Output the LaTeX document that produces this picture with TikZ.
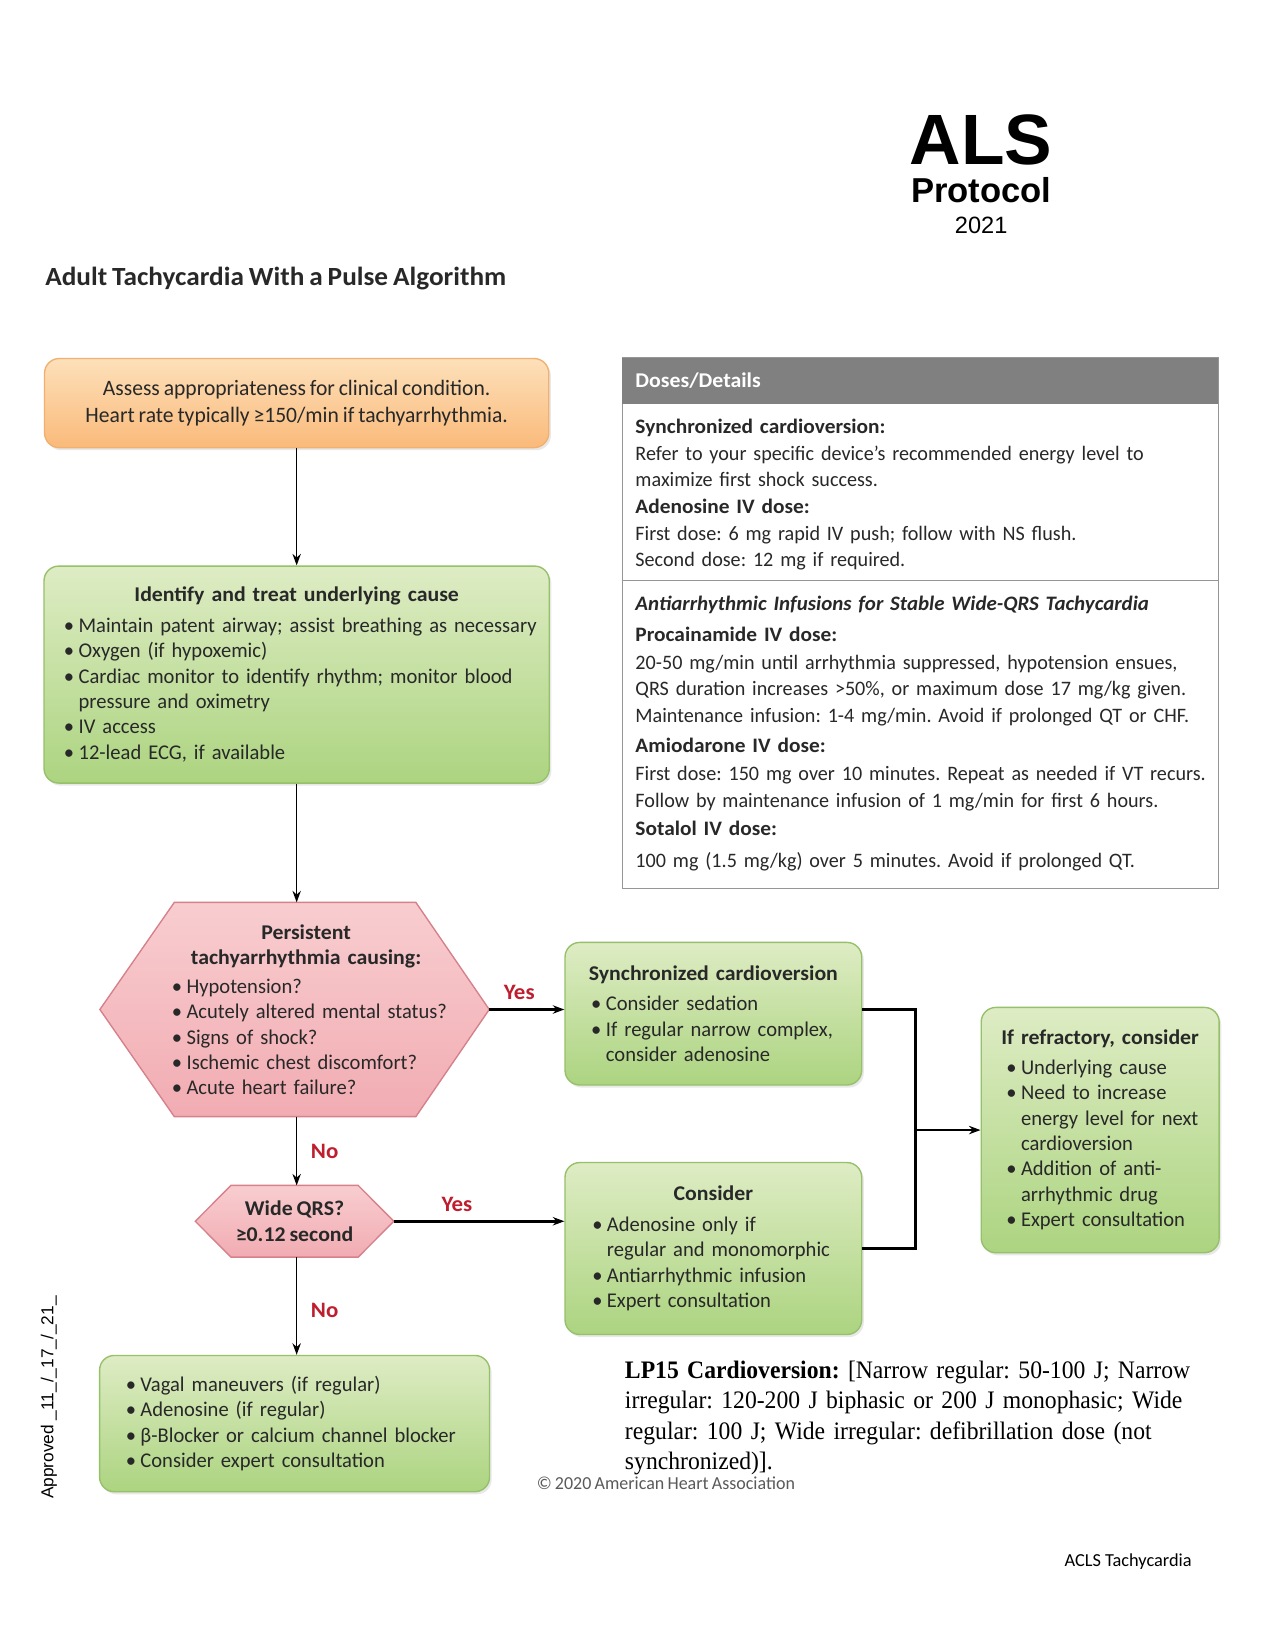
\documentclass[tikz,border=0pt]{standalone}
\usepackage{fontspec}
\setmainfont{Carlito}
\newfontfamily\cond{Carlito}[FakeStretch=0.98,WordSpace=0.8,BoldFeatures={FakeStretch=1.04},BoldItalicFeatures={FakeStretch=1.02}]
\newfontfamily\arialfont{Liberation Sans}
\newfontfamily\seriffont{Liberation Serif}[FakeStretch=0.94]
\usetikzlibrary{shapes,arrows.meta,positioning,calc,backgrounds,shadows}
\definecolor{textdark}{RGB}{40,40,40}
\definecolor{greentop}{RGB}{222,236,196}
\definecolor{greenbot}{RGB}{172,212,128}
\definecolor{greenline}{RGB}{150,192,105}
\definecolor{orangetop}{RGB}{253,224,186}
\definecolor{orangebot}{RGB}{250,186,122}
\definecolor{orangeline}{RGB}{242,176,112}
\definecolor{pinktop}{RGB}{248,205,208}
\definecolor{pinkbot}{RGB}{241,172,178}
\definecolor{pinkline}{RGB}{214,128,138}
\definecolor{answerred}{RGB}{190,30,45}
\definecolor{headgray}{RGB}{128,128,128}
\definecolor{tableline}{RGB}{150,150,150}
\definecolor{ahagray}{RGB}{90,90,90}
\setlength{\parindent}{0pt}
\frenchspacing
\hyphenpenalty=10000
\newcommand{\boxtitle}[1]{\noindent\makebox[\linewidth]{\bfseries #1}\par}
\newcommand{\bul}[1]{\hangindent=14pt\hangafter=1\noindent\makebox[14pt][l]{\textbullet}#1\par}

\begin{document}
\begin{tikzpicture}[
    x=1pt, y=-1pt,
    >={Stealth[length=11pt,width=8pt]},
    every node/.style={inner sep=0pt,text=textdark},
    boxshadow/.style={drop shadow={opacity=0.18,shadow xshift=2pt,shadow yshift=-2.5pt}},
    greenbox/.style={draw=greenline,line width=1.3pt,rounded corners=14pt,top color=greentop,bottom color=greenbot,boxshadow,font=\cond\fontsize{20}{24.2}\selectfont,align=left},
    orangebox/.style={draw=orangeline,line width=1.3pt,rounded corners=14pt,top color=orangetop,bottom color=orangebot,boxshadow,font=\cond\fontsize{21}{25}\selectfont,align=center},
    hexnode/.style={font=\cond\fontsize{20}{24}\selectfont},
    hexshape/.style={draw=pinkline,line width=1.3pt,top color=pinktop,bottom color=pinkbot},
    thinarrow/.style={->,line width=1.3pt},
    thickline/.style={line width=2.6pt},
    answer/.style={font=\cond\bfseries\fontsize{21}{24}\selectfont,text=answerred},
    tabletext/.style={anchor=north west,font=\cond\fontsize{19.6}{25.3}\selectfont,align=left,text width=556pt}
]
\useasboundingbox (0,0) rectangle (1216,1574);

% Header
\node[anchor=north,text width=240pt,align=center,text=black,font=\arialfont] (als) at (936,109.3) {%
    {\bfseries\fontsize{68}{70}\selectfont ALS\par}
    {\bfseries\fontsize{33}{36}\selectfont Protocol\par}
    {\fontsize{22.5}{30}\selectfont 2021\par}};
\node[anchor=base west,font=\cond\bfseries\fontsize{25}{28}\selectfont] (title) at (43,272) {Adult Tachycardia With a Pulse Algorithm};

% Main column
\node[orangebox,minimum width=481pt,minimum height=85pt] (assess) at (283,384.5)
    {Assess appropriateness for clinical condition.\\Heart rate typically ≥150/min if tachyarrhythmia.};

\node[greenbox,text width=482pt,minimum height=207pt] (cause) at (283,643.5) {%
    \boxtitle{Identify and treat underlying cause}\vspace{5pt}
    \leftskip=19pt
    \bul{Maintain patent airway; assist breathing as necessary}
    \bul{Oxygen (if hypoxemic)}
    \bul{Cardiac monitor to identify rhythm; monitor blood\newline pressure and oximetry}
    \bul{IV access}
    \bul{12-lead ECG, if available}};

\node[hexnode,minimum width=371pt,minimum height=204pt,text width=300pt,align=left] (persist) at (281,963) {%
    \boxtitle{\hspace{22pt}Persistent}
    \boxtitle{\hspace{22pt}tachyarrhythmia causing:}\vspace{4pt}
    \leftskip=33pt
    \bul{Hypotension?}
    \bul{Acutely altered mental status?}
    \bul{Signs of shock?}
    \bul{Ischemic chest discomfort?}
    \bul{Acute heart failure?}};

\node[hexnode,minimum width=189pt,minimum height=68pt,align=center,font=\cond\bfseries\fontsize{20}{24}\selectfont] (wide) at (281,1165)
    {Wide QRS?\\≥0.12 second};

\node[greenbox,text width=372pt,minimum height=130pt] (vagal) at (281,1358) {%
    \leftskip=25pt
    \bul{Vagal maneuvers (if regular)}
    \bul{Adenosine (if regular)}
    \bul{β-Blocker or calcium channel blocker}
    \bul{Consider expert consultation}};

% Decision outlines
\begin{scope}[on background layer]
\fill[white] (0,0) rectangle (1216,1574);
\draw[hexshape] (persist.west) -- ([xshift=71pt]persist.north west) -- ([xshift=-70pt]persist.north east)
    -- (persist.east) -- ([xshift=-70pt]persist.south east) -- ([xshift=71pt]persist.south west) -- cycle;
\draw[hexshape] (wide.west) -- ([xshift=34pt]wide.north west) -- ([xshift=-34pt]wide.north east)
    -- (wide.east) -- ([xshift=-34pt]wide.south east) -- ([xshift=34pt]wide.south west) -- cycle;
\end{scope}

% Right column
\node[greenbox,text width=283pt,minimum height=136pt] (sync) at (680.5,967) {%
    \boxtitle{Synchronized cardioversion}\vspace{5pt}
    \leftskip=25pt
    \bul{Consider sedation}
    \bul{If regular narrow complex,\newline consider adenosine}};

\node[greenbox,text width=283pt,minimum height=164pt] (consider) at (680.5,1191) {%
    \boxtitle{Consider}\vspace{5pt}
    \leftskip=26pt
    \bul{Adenosine only if\newline regular and monomorphic}
    \bul{Antiarrhythmic infusion}
    \bul{Expert consultation}};

\node[greenbox,text width=227pt,minimum height=234pt] (refr) at (1049.5,1078) {%
    \boxtitle{If refractory, consider}\vspace{4pt}
    \leftskip=24pt
    \bul{Underlying cause}
    \bul{Need to increase\newline energy level for next\newline cardioversion}
    \bul{Addition of anti-\newline arrhythmic drug}
    \bul{Expert consultation}};

% Connections
\draw[thinarrow] (assess) -- (cause);
\draw[thinarrow] (cause) -- (cause |- persist.north);
\draw[thinarrow] (cause |- persist.south) -- node[answer,right=13pt] (no1) {No} (cause |- wide.north);
\draw[thinarrow] (cause |- wide.south) -- node[answer,pos=0.55,right=13pt] (no2) {No} (cause |- vagal.north);
\draw[thickline,->] (persist.east) -- node[answer,pos=0.4,above=8pt] (yes1) {Yes} (persist.east -| sync.west);
\draw[thickline,->] (wide.east) -- node[answer,pos=0.37,above=8pt] (yes2) {Yes} (wide.east -| consider.west);
\coordinate (merge) at (873,1078);
\draw[thickline] (sync.east |- persist.east) -| (merge);
\draw[thickline] (consider.east) -| (merge);
\draw[thickline,->] (merge) -- (merge -| refr.west);

% Doses table
\node[draw=tableline,line width=1.2pt,minimum width=569pt,minimum height=506pt,anchor=north west] (doses) at (593,341) {};
\node[fill=headgray,anchor=north west,text width=543pt,inner xsep=13pt,minimum height=44pt,align=left,font=\cond\bfseries\fontsize{20}{24}\selectfont,text=white] (doseshead) at (593,341) {Doses/Details};
\draw[tableline,line width=1.2pt] (doses.west |- 0,554) -- (doses.east |- 0,554);

\node[tabletext] (cardiodose) at (606,400) {%
    {\bfseries Synchronized cardioversion:}\\
    Refer to your specific device’s recommended energy level to\\
    maximize first shock success.\\
    {\bfseries Adenosine IV dose:}\\
    First dose: 6 mg rapid IV push; follow with NS flush.\\
    Second dose: 12 mg if required.};

\node[tabletext] (infusions) at (606,568) {%
    {\bfseries\itshape Antiarrhythmic Infusions for Stable Wide-QRS Tachycardia}\\[5pt]
    {\bfseries Procainamide IV dose:}\\[1pt]
    20-50 mg/min until arrhythmia suppressed, hypotension ensues,\\
    QRS duration increases >50\%, or maximum dose 17 mg/kg given.\\
    Maintenance infusion: 1-4 mg/min. Avoid if prolonged QT or CHF.\\[3pt]
    {\bfseries Amiodarone IV dose:}\\[2pt]
    First dose: 150 mg over 10 minutes. Repeat as needed if VT recurs.\\
    Follow by maintenance infusion of 1 mg/min for first 6 hours.\\[2pt]
    {\bfseries Sotalol IV dose:}\\[5pt]
    100 mg (1.5 mg/kg) over 5 minutes. Avoid if prolonged QT.};

% Notes
\node[anchor=north west,font=\seriffont\fontsize{24}{29}\selectfont,text=black,align=left,text width=600pt] (lp15) at (596,1298) {%
    {\bfseries LP15 Cardioversion:} [Narrow regular: 50-100 J; Narrow\\
    irregular: 120-200 J biphasic or 200 J monophasic; Wide\\
    regular: 100 J; Wide irregular: defibrillation dose (not\\
    synchronized)].};
\node[anchor=base west,font=\cond\fontsize{17.5}{20}\selectfont,text=ahagray] (aha) at (512,1421) {\textcopyright\,2020 American Heart Association};
\node[anchor=base east,font=\fontsize{17.5}{20}\selectfont,text=black] (pagename) at (1137,1494) {ACLS Tachycardia};
\node[rotate=90,anchor=base west,font=\arialfont\fontsize{16.5}{18}\selectfont,text=black] (approved) at (51,1430) {Approved \_11\_/\_17\_/\_21\_};

\end{tikzpicture}
\end{document}
